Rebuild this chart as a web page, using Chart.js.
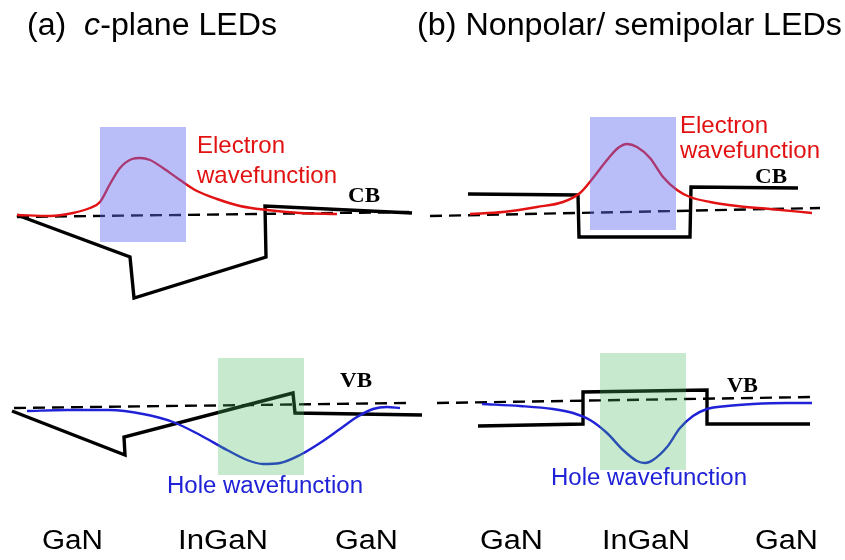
<!DOCTYPE html>
<html>
<head>
<meta charset="utf-8">
<script src="https://cdn.jsdelivr.net/npm/chart.js@4.4.1/dist/chart.umd.min.js"></script>
<style>
  html, body { margin: 0; padding: 0; background: #ffffff; overflow: hidden; }
  #wrap { width: 845px; height: 560px; }
</style>
</head>
<body>
<div id="wrap"><canvas id="c" width="845" height="560"></canvas></div>
<script>
// Diagram units: x = growth-direction position, y = energy depth (drawn downward).

// Band edges, c-plane quantum well (tilted by polarization fields)
const cPlaneCB = [[17,215],[130,257],[134,298],[266,257],[265,206],[412,213]];
const cPlaneVB = [[12,411],[125,455],[124,437],[293,393],[295,413],[422,415]];
// Band edges, nonpolar / semipolar quantum well (flat-band)
const nonpolarCB = [[468,194],[578,195],[579,237],[690,237],[691,187],[798,188]];
const nonpolarVB = [[478,426],[583,424],[583,392],[707,390],[707,424],[810,424]];

// Dashed reference levels
const cPlaneCBLevel = [[17,217],[413,212]];
const cPlaneVBLevel = [[14,408],[407,403]];
const nonpolarCBLevel = [[430,216],[820,208]];
const nonpolarVBLevel = [[437,403],[812,397]];

// Carrier wavefunctions
const cPlaneElectron = [[17,215],[50,216],[73,213],[90,208],[100,202],[110,184],[120,168],[132,159],[140,158],[150,160],[163,168],[180,180],[197,191],[217,199],[240,206],[267,210],[300,213],[337,214]];
const cPlaneHole = [[27,411],[67,410],[110,410],[143,414],[173,422],[200,435],[227,450],[247,460],[263,464],[280,463],[300,455],[320,443],[340,429],[357,417],[373,409],[387,407],[400,408]];
const nonpolarElectron = [[470,214],[503,212],[537,207],[563,202],[580,193],[593,178],[607,160],[618,148],[627,144],[637,147],[650,158],[663,177],[677,190],[690,197],[710,202],[737,206],[770,209],[812,213]];
const nonpolarHole = [[482,404],[520,406],[553,409],[573,413],[590,420],[607,433],[623,450],[637,461],[645,463],[653,460],[667,447],[680,428],[693,416],[707,409],[727,406],[753,404],[787,403],[812,403]];

// Well regions where the carriers are confined: [xStart, xEnd, yTop, yBottom]
const cPlaneElectronWell = [100,186,127,242];
const cPlaneHoleWell = [218,304,358,475];
const nonpolarElectronWell = [590,676,117,230];
const nonpolarHoleWell = [600,686,353,470];

// Text
const panelTitles = [
  [{t:'(a)  '},{t:'c',italic:true},{t:'-plane LEDs'}],
  [{t:'(b) Nonpolar/ semipolar LEDs'}]
];
const layerNames = ['GaN','InGaN','GaN','GaN','InGaN','GaN'];
const bandNames = ['CB','VB','CB','VB'];
const electronLabel = ['Electron','wavefunction'];
const holeLabel = 'Hole wavefunction';

const RED = '#e21212';
const BLUE = '#1f22d6';
const BLACK = '#000000';

const pts = arr => arr.map(([x,y]) => ({x, y}));

function bandLine(arr) {
  return { data: pts(arr), borderColor: BLACK, borderWidth: 3.4, tension: 0, pointRadius: 0,
           fill: false, order: 3, clip: false, borderJoinStyle: 'miter', borderCapStyle: 'butt' };
}
function levelLine(arr) {
  return { data: pts(arr), borderColor: BLACK, borderWidth: 2.4, borderDash: [12, 7], tension: 0,
           pointRadius: 0, fill: false, order: 4, clip: false };
}
function waveLine(arr, color) {
  return { data: pts(arr), borderColor: color, borderWidth: 2.4, cubicInterpolationMode: 'monotone',
           pointRadius: 0, fill: false, order: 2, clip: false };
}
function wellBox(r, color) {
  return { data: [{x:r[0], y:r[2]}, {x:r[1], y:r[2]}], borderWidth: 0, borderColor: 'rgba(0,0,0,0)',
           backgroundColor: color, pointRadius: 0, tension: 0, fill: {value: r[3]}, order: 1 };
}

const WELL_BLUE = 'rgba(98,108,238,0.44)';
const WELL_GREEN = 'rgba(70,185,95,0.30)';

const datasets = [
  wellBox(cPlaneElectronWell, WELL_BLUE),
  wellBox(cPlaneHoleWell, WELL_GREEN),
  wellBox(nonpolarElectronWell, WELL_BLUE),
  wellBox(nonpolarHoleWell, WELL_GREEN),
  waveLine(cPlaneElectron, RED),
  waveLine(cPlaneHole, BLUE),
  waveLine(nonpolarElectron, RED),
  waveLine(nonpolarHole, BLUE),
  bandLine(cPlaneCB),
  bandLine(cPlaneVB),
  bandLine(nonpolarCB),
  bandLine(nonpolarVB),
  levelLine(cPlaneCBLevel),
  levelLine(cPlaneVBLevel),
  levelLine(nonpolarCBLevel),
  levelLine(nonpolarVBLevel)
];

// Text placements: x, baseline y, width span (diagram units), font
const SANS = '"Liberation Sans", Arial, sans-serif';
const SERIF = '"Liberation Serif", "Times New Roman", serif';
const textItems = [
  {parts: panelTitles[0], x: 27, y: 35, w: 250, size: 31, family: SANS, color: BLACK},
  {parts: panelTitles[1], x: 417, y: 35, w: 425, size: 31, family: SANS, color: BLACK},
  {parts: [{t: layerNames[0]}], x: 42, y: 549, w: 61, size: 27, family: SANS, color: BLACK},
  {parts: [{t: layerNames[1]}], x: 178, y: 549, w: 90, size: 27, family: SANS, color: BLACK},
  {parts: [{t: layerNames[2]}], x: 335, y: 549, w: 63, size: 27, family: SANS, color: BLACK},
  {parts: [{t: layerNames[3]}], x: 480, y: 549, w: 63, size: 27, family: SANS, color: BLACK},
  {parts: [{t: layerNames[4]}], x: 602, y: 549, w: 88, size: 27, family: SANS, color: BLACK},
  {parts: [{t: layerNames[5]}], x: 755, y: 549, w: 63, size: 27, family: SANS, color: BLACK},
  {parts: [{t: bandNames[0], bold: true}], x: 348, y: 202, w: 32, size: 21, family: SERIF, color: BLACK},
  {parts: [{t: bandNames[1], bold: true}], x: 340, y: 387, w: 32, size: 21, family: SERIF, color: BLACK},
  {parts: [{t: bandNames[2], bold: true}], x: 755, y: 183, w: 32, size: 21, family: SERIF, color: BLACK},
  {parts: [{t: bandNames[3], bold: true}], x: 727, y: 392, w: 31, size: 21, family: SERIF, color: BLACK},
  {parts: [{t: electronLabel[0]}], x: 197, y: 153, w: 88, size: 24, family: SANS, color: RED},
  {parts: [{t: electronLabel[1]}], x: 197, y: 183, w: 140, size: 24, family: SANS, color: RED},
  {parts: [{t: electronLabel[0]}], x: 680, y: 133, w: 88, size: 24, family: SANS, color: RED},
  {parts: [{t: electronLabel[1]}], x: 680, y: 158, w: 140, size: 24, family: SANS, color: RED},
  {parts: [{t: holeLabel}], x: 167, y: 493, w: 196, size: 23, family: SANS, color: BLUE},
  {parts: [{t: holeLabel}], x: 551, y: 485, w: 196, size: 23, family: SANS, color: BLUE}
];

const fontOf = (p, item) => `${p.italic ? 'italic ' : ''}${p.bold ? 'bold ' : ''}${item.size}px ${item.family}`;

const diagramText = {
  id: 'diagramText',
  afterDatasetsDraw(chart) {
    const ctx = chart.ctx;
    const xs = chart.scales.x, ys = chart.scales.y;
    textItems.forEach(item => {
      const px = xs.getPixelForValue(item.x);
      const py = ys.getPixelForValue(item.y);
      const span = xs.getPixelForValue(item.x + item.w) - px;
      ctx.save();
      ctx.textAlign = 'left';
      ctx.textBaseline = 'alphabetic';
      ctx.fillStyle = item.color;
      let total = 0;
      const measured = item.parts.map(p => {
        ctx.font = fontOf(p, item);
        const w = ctx.measureText(p.t).width;
        total += w;
        return {p, w};
      });
      const sx = span / total;
      ctx.translate(px, py);
      ctx.scale(sx, 1);
      let cx = 0;
      measured.forEach(({p, w}) => {
        ctx.font = fontOf(p, item);
        ctx.fillText(p.t, cx, 0);
        cx += w;
      });
      ctx.restore();
    });
  }
};

new Chart(document.getElementById('c'), {
  type: 'line',
  data: { datasets },
  options: {
    responsive: false,
    animation: false,
    devicePixelRatio: 1,
    layout: { padding: 0 },
    plugins: { legend: { display: false }, tooltip: { enabled: false }, title: { display: false } },
    scales: {
      x: { type: 'linear', min: 0, max: 845, display: false },
      y: { type: 'linear', min: 0, max: 560, reverse: true, display: false }
    }
  },
  plugins: [diagramText]
});
</script>
</body>
</html>
